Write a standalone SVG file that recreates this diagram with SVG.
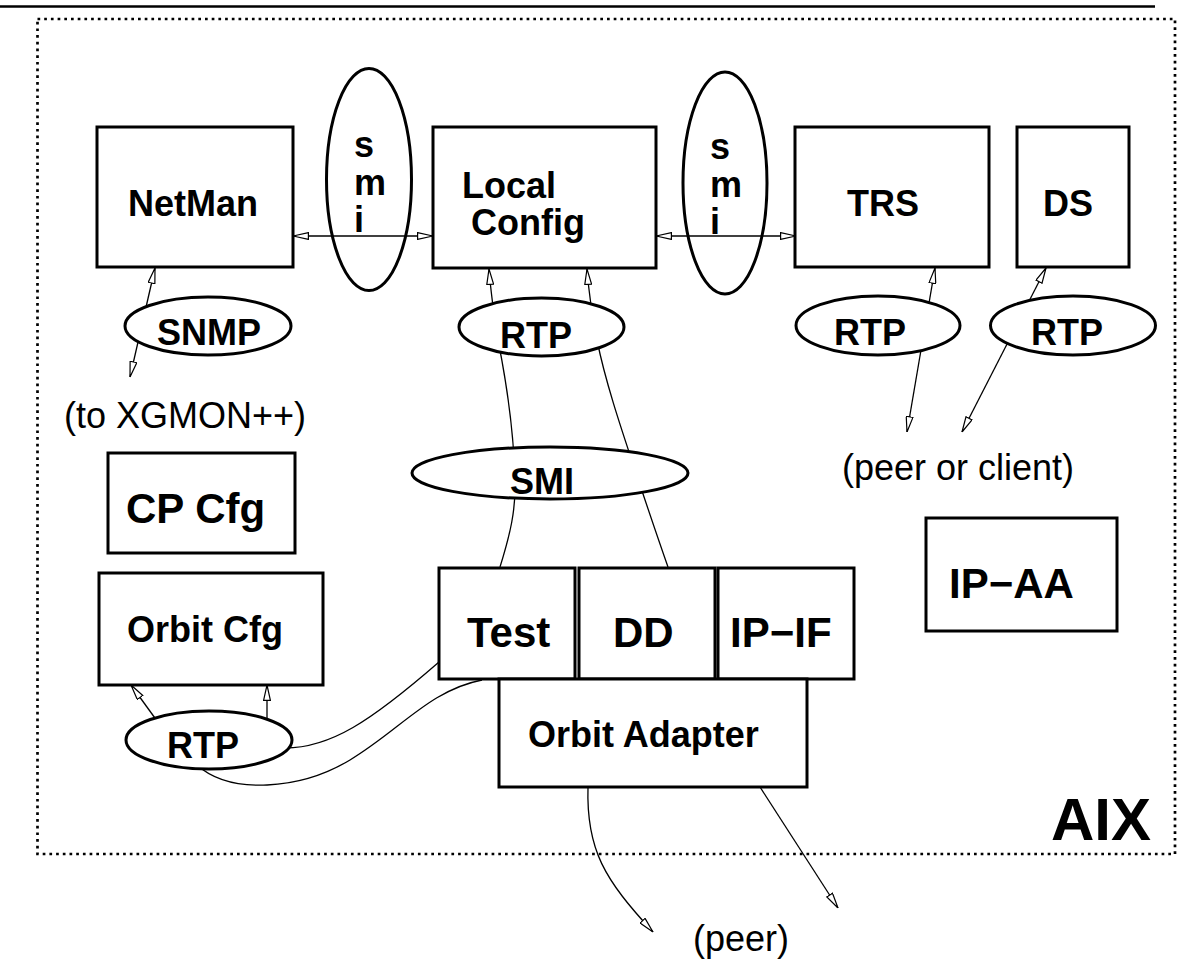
<svg xmlns="http://www.w3.org/2000/svg" width="1178" height="963" viewBox="0 0 1178 963">
<style>
.box{fill:#fff;stroke:#000;stroke-width:3}
.ell{fill:#fff;stroke:#000;stroke-width:3}
.ello{fill:none;stroke:#000;stroke-width:3}
.conn{fill:none;stroke:#000;stroke-width:1.3}
.t{font-family:"Liberation Sans",Arial,Helvetica,sans-serif;font-weight:bold;font-size:36px;fill:#000}
.tl{font-size:42px}
.n{font-family:"Liberation Sans",Arial,Helvetica,sans-serif;font-weight:normal;font-size:36px;fill:#000}
</style>
<defs>
<marker id="ah" viewBox="0 0 16 8" refX="16" refY="4" markerWidth="16" markerHeight="8" markerUnits="userSpaceOnUse" orient="auto-start-reverse">
<path d="M0.6,0.6 L16,4 L0.6,7.4 z" fill="#fff" stroke="#000" stroke-width="1.2"/>
</marker>
</defs>
<rect width="1178" height="963" fill="#fff"/>
<line x1="0" y1="6.5" x2="1155" y2="6.5" stroke="#000" stroke-width="2.7"/>
<rect x="37.5" y="19" width="1137.5" height="835" fill="none" stroke="#000" stroke-width="2.7" stroke-dasharray="2.7 4"/>

<g id="connectors">
<line class="conn" x1="293" y1="236" x2="433" y2="236" marker-start="url(#ah)" marker-end="url(#ah)"/>
<line class="conn" x1="656" y1="236" x2="796" y2="236" marker-start="url(#ah)" marker-end="url(#ah)"/>
<line class="conn" x1="155" y1="268" x2="130" y2="377" marker-start="url(#ah)" marker-end="url(#ah)"/>
<line class="conn" x1="935" y1="268" x2="907" y2="432" marker-start="url(#ah)" marker-end="url(#ah)"/>
<line class="conn" x1="1046" y1="268" x2="962" y2="432" marker-start="url(#ah)" marker-end="url(#ah)"/>
<path class="conn" d="M500,567 C510,535 516,510 515,480 C514,440 508,390 498,340 C494,315 491,295 489,269" marker-end="url(#ah)"/>
<path class="conn" d="M668,567 C655,530 645,500 635,470 C620,425 605,380 597,340 C592,315 589,295 587,269" marker-end="url(#ah)"/>
<line class="conn" x1="160" y1="725" x2="131" y2="685" marker-end="url(#ah)"/>
<line class="conn" x1="267" y1="725" x2="267" y2="685" marker-end="url(#ah)"/>
<path class="conn" d="M285,748 C330,748 370,722 439,662"/>
<path class="conn" d="M197,765 C230,795 300,790 350,760 C400,730 430,690 482,680"/>
<path class="conn" d="M588,787 C586,850 605,880 653,932" marker-end="url(#ah)"/>
<line class="conn" x1="760" y1="787" x2="838" y2="908" marker-end="url(#ah)"/>
</g>

<g id="netman"><rect class="box" x="97" y="127" width="196" height="140"/><text class="t" x="128" y="216">NetMan</text></g>
<g id="smi-left"><ellipse class="ello" cx="369" cy="179.5" rx="42.5" ry="111"/><text class="t"><tspan x="354" y="157">s</tspan><tspan x="354" y="195">m</tspan><tspan x="354" y="232">i</tspan></text></g>
<g id="local-config"><rect class="box" x="433" y="127" width="223" height="141"/><text class="t"><tspan x="462" y="198">Local</tspan><tspan x="471" y="235">Config</tspan></text></g>
<g id="smi-right"><ellipse class="ello" cx="725" cy="183" rx="42" ry="111"/><text class="t"><tspan x="710" y="159">s</tspan><tspan x="710" y="197">m</tspan><tspan x="710" y="234">i</tspan></text></g>
<g id="trs"><rect class="box" x="795" y="127" width="194" height="140"/><text class="t" x="847" y="216">TRS</text></g>
<g id="ds"><rect class="box" x="1017" y="127" width="112" height="140"/><text class="t" x="1043" y="216">DS</text></g>
<g id="snmp"><ellipse class="ell" cx="208" cy="326" rx="83" ry="29"/><text class="t" x="157" y="345">SNMP</text></g>
<g id="rtp-lc"><ellipse class="ell" cx="541.5" cy="327" rx="82.5" ry="29"/><text class="t" x="500" y="348">RTP</text></g>
<g id="rtp-trs"><ellipse class="ell" cx="878" cy="325.5" rx="82" ry="29.5"/><text class="t" x="834" y="345">RTP</text></g>
<g id="rtp-ds"><ellipse class="ell" cx="1073" cy="325.5" rx="82.5" ry="29.5"/><text class="t" x="1031" y="345">RTP</text></g>
<g id="to-xgmon"><text class="n" x="64" y="428">(to XGMON++)</text></g>
<g id="peer-or-client"><text class="n" x="842" y="480">(peer or client)</text></g>
<g id="cp-cfg"><rect class="box" x="108" y="453" width="187" height="100"/><text class="t tl" x="126" y="523">CP Cfg</text></g>
<g id="smi-big"><ellipse class="ell" cx="550" cy="473" rx="138" ry="26"/><text class="t" x="510" y="494">SMI</text></g>
<g id="orbit-cfg"><rect class="box" x="99" y="573" width="224" height="112"/><text class="t" x="127" y="642">Orbit Cfg</text></g>
<g id="ip-aa"><rect class="box" x="926" y="518" width="191" height="113"/><text class="t tl" x="949" y="598">IP−AA</text></g>
<g id="test"><rect class="box" x="439" y="568" width="136" height="111"/><text class="t tl" x="467" y="647">Test</text></g>
<g id="dd"><rect class="box" x="579" y="568" width="136" height="111"/><text class="t tl" x="613" y="647">DD</text></g>
<g id="ip-if"><rect class="box" x="718" y="568" width="136" height="111"/><text class="t tl" x="730" y="647">IP−IF</text></g>
<g id="orbit-adapter"><rect class="box" x="499" y="679" width="308" height="108"/><text class="t" x="528" y="747">Orbit Adapter</text></g>
<g id="rtp-bl"><ellipse class="ell" cx="209" cy="740" rx="83" ry="29"/><text class="t" x="167" y="758">RTP</text></g>
<g id="peer"><text class="n" x="693" y="951">(peer)</text></g>
<g id="aix"><text class="t" style="font-size:60px" x="1051" y="840">AIX</text></g>
</svg>
